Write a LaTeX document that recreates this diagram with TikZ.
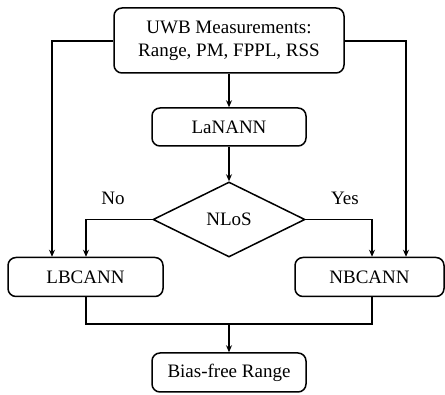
\documentclass[tikz,border=0pt]{standalone}
\usepackage{fontspec}
\newfontfamily\tnr{LiberationSerif-Regular.ttf}
\usetikzlibrary{shapes.geometric,arrows.meta}
\begin{document}
\begin{tikzpicture}[x=1pt,y=-1pt,
  every node/.style={font=\tnr\fontsize{19}{23}\selectfont},
  box/.style={draw,line width=1.5pt,rounded corners=8pt,align=center,inner sep=0pt},
  dec/.style={draw,line width=1.5pt,diamond,inner sep=0pt,minimum width=152pt,minimum height=75pt},
  conn/.style={line width=1.5pt},
  arr/.style={line width=1.5pt,-{Stealth[length=7pt,width=6pt]}},
  lbl/.style={inner sep=0pt}]
\useasboundingbox (0,0) rectangle (445,395);
\node[box,minimum width=230pt,minimum height=65pt] (uwb) at (229,40.5) {UWB Measurements:\\Range, PM, FPPL, RSS};
\node[box,minimum width=154pt,minimum height=38pt] (lan) at (229,127) {LaNANN};
\node[dec] (nlos) at (229,219.5) {NLoS};
\node[box,minimum width=155pt,minimum height=39pt] (lb) at (85.5,277) {LBCANN};
\node[box,minimum width=149pt,minimum height=39pt] (nb) at (369.5,277) {NBCANN};
\node[box,minimum width=154pt,minimum height=39pt] (bf) at (229,372.5) {Bias-free Range};
\node[lbl] (no) at (113,198) {No};
\node[lbl] (yes) at (345,198) {Yes};
\coordinate (j) at (229,324);
\draw[arr] (uwb) -- (lan);
\draw[arr] (lan) -- (nlos);
\draw[arr] (uwb.west |- 0,41) -| (lb.north -| 52,0);
\draw[arr] (uwb.east |- 0,41) -| (nb.north -| 406,0);
\draw[arr] (nlos.west) -| (lb.north -| 86,0);
\draw[arr] (nlos.east) -| (nb.north -| 372,0);
\draw[conn] (lb.south -| 86,0) |- (j) -| (nb.south -| 372,0);
\draw[arr] (j) -- (bf);
\end{tikzpicture}
\end{document}
